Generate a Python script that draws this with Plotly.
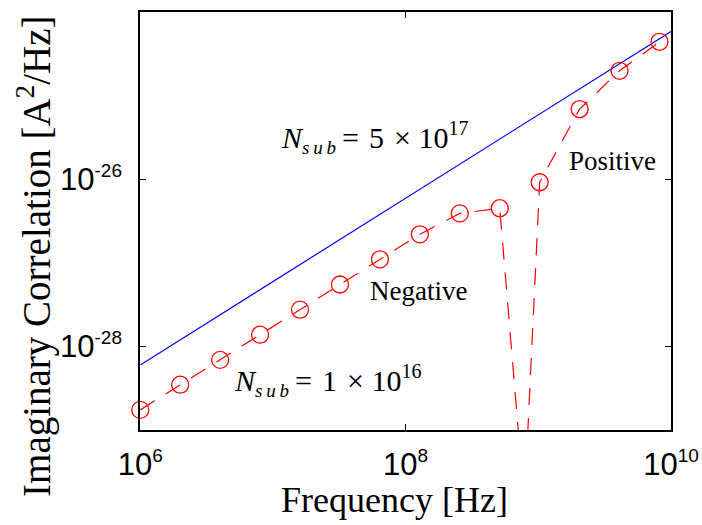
import plotly.graph_objects as go

# ---- data ----
freq_markers = [1.0e6, 2.0e6, 4.0e6, 8.0e6, 1.6e7, 3.2e7, 6.4e7, 1.28e8,
                2.56e8, 5.12e8, 1.024e9, 2.048e9, 4.096e9, 8.192e9]
corr_markers = [1.74e-29, 3.48e-29, 6.9e-29, 1.38e-28, 2.75e-28, 5.5e-28,
                1.10e-27, 2.19e-27, 3.9e-27, 4.5e-27, 9.2e-27, 6.9e-26,
                1.98e-25, 4.4e-25]

# sign change (zero crossing) between 5.12e8 and 1.024e9
dip_freq = 7.85e8
dip_corr = 1.33e-30

freq_blue = [1.0e6, 1.0e10]
corr_blue = [6.0e-29, 5.85e-25]

sup = "<sup><span style='font-size:19px'>{}</span></sup>"
xtick_vals = [1e6, 1e8, 1e10]
xtick_text = ["10" + sup.format("6"), "10" + sup.format("8"), "10" + sup.format("10")]
ytick_vals = [1e-28, 1e-26]
ytick_text = ["10" + sup.format("-28"), "10" + sup.format("-26")]

freq_line = freq_markers[:10] + [dip_freq] + freq_markers[10:]
corr_line = corr_markers[:10] + [dip_corr] + corr_markers[10:]

fig = go.Figure()
fig.add_trace(go.Scatter(x=freq_blue, y=corr_blue, mode="lines",
                         line=dict(color="#0000ff", width=1.2), showlegend=False))
fig.add_trace(go.Scatter(x=freq_line, y=corr_line, mode="lines",
                         line=dict(color="#ff0000", width=1.2, dash="17px,13px"),
                         showlegend=False))
fig.add_trace(go.Scatter(x=freq_markers, y=corr_markers, mode="markers",
                         cliponaxis=False,
                         marker=dict(symbol="circle-open", size=17,
                                     color="#ff0000", line=dict(width=1.3, color="#ff0000")),
                         showlegend=False))

serif = "Liberation Serif, Times New Roman, serif"
sans = "Liberation Sans, Arial, sans-serif"

ann_font = dict(family=serif, size=27, color="black")
math_font = dict(family=serif, size=30, color="black")
nsub = ("<i>N</i><sub><span style='font-size:19px'><i>s\u2009u\u2009b</i></span></sub>"
        "\u2009=\u2004{m}\u2004\u00d7 10" + "<sup><span style='font-size:20px'>{e}</span></sup>")
fig.add_annotation(x=7.766, y=-25.50, xref="x", yref="y", showarrow=False,
                   text=nsub.format(m="5", e="17"), font=math_font)
fig.add_annotation(x=7.412, y=-28.41, xref="x", yref="y", showarrow=False,
                   text=nsub.format(m="1", e="16"), font=math_font)
fig.add_annotation(x=9.558, y=-25.78, xref="x", yref="y", showarrow=False,
                   text="Positive", font=ann_font)
fig.add_annotation(x=8.097, y=-27.34, xref="x", yref="y", showarrow=False,
                   text="Negative", font=ann_font)

# axis titles (placed as in the reference)
fig.add_annotation(x=-0.2, y=0.416, xref="paper", yref="paper", showarrow=False,
                   textangle=-90, xanchor="center", yanchor="middle",
                   text="Imaginary Correlation [A<sup>2</sup>/Hz]",
                   font=dict(family=serif, size=39, color="black"))
fig.add_annotation(x=0.479, y=-0.167, xref="paper", yref="paper", showarrow=False,
                   xanchor="center", yanchor="middle",
                   text="Frequency [Hz]",
                   font=dict(family=serif, size=36, color="black"))

axis_common = dict(type="log", showgrid=False, zeroline=False, showline=True,
                   linecolor="black", linewidth=1.6, mirror="ticks", automargin=False,
                   ticks="inside", ticklen=6, tickwidth=1, tickcolor="black",
                   tickfont=dict(family=sans, size=31, color="black"))

fig.update_xaxes(range=[5.998, 10], tickvals=xtick_vals, ticktext=xtick_text,
                 ticklabelstandoff=6, **axis_common)
fig.update_yaxes(range=[-29, -24], tickvals=ytick_vals, ticktext=ytick_text,
                 ticklabelstandoff=10, **axis_common)

fig.update_layout(width=702, height=525, margin=dict(l=140, r=31, t=12, b=95),
                  plot_bgcolor="white", paper_bgcolor="white")

fig.write_html("out.html")
